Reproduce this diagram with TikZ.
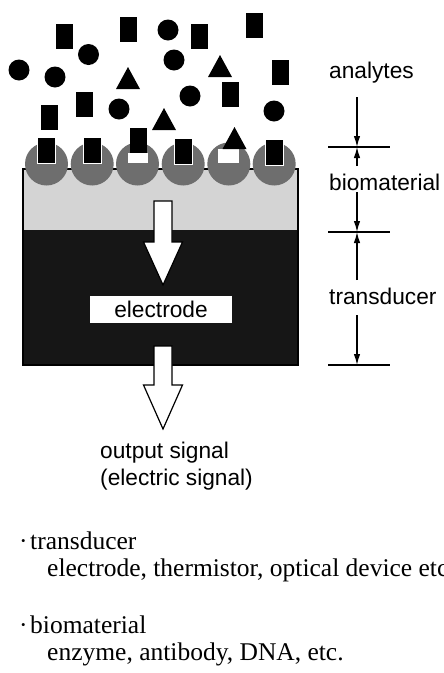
\documentclass[tikz,border=0pt]{standalone}
\usepackage{fontspec}
\setmainfont{Liberation Serif}
\setsansfont{Liberation Sans}
\usetikzlibrary{arrows.meta}
\definecolor{bead}{RGB}{110,110,110}
\definecolor{layer}{RGB}{212,212,212}
\definecolor{trans}{RGB}{22,22,22}
\begin{document}
\begin{tikzpicture}[x=1pt,y=-1pt,
  lbl/.style={font=\sffamily\fontsize{22.7}{27}\selectfont, inner sep=0pt, anchor=base west},
  note/.style={font=\rmfamily\fontsize{25.5}{30}\selectfont, inner sep=0pt, anchor=base west},
  dim/.style={line width=1.2pt, -{Latex[length=11pt,width=6.5pt]}},
  tick/.style={line width=1.4pt},
  bound/.style={fill=black, draw=white, line width=1pt},
  bigarrow/.style={fill=white, draw=black, line width=1.2pt, line join=miter}
]
\useasboundingbox (0,0) rectangle (444,673);
\fill[white] (0,0) rectangle (444,673);

% sensor body
\fill[layer] (23,169) rectangle (298,230);
\fill[trans] (23,230) rectangle (298,365);
\draw[line width=1.2pt, black] (23,169) rectangle (298,365);

% receptor beads
\foreach \cx in {46.5,92.2,137.5,183.2,228.8,274.2}
  \fill[bead] (\cx,164) circle (21.5pt);

% empty sites
\fill[white] (128,153) rectangle (148,163);
\fill[white] (218,149) rectangle (239,163);

% bound analytes
\foreach \cx/\cy in {46/150,92/150,183/151,274.5/152}
  \filldraw[bound] (\cx-9,\cy-13) rectangle (\cx+9,\cy+13);

% free analytes: rectangles
\foreach \cx/\cy in {64.5/36,128.5/29,199.5/36,254.5/25.5,280/72.5,230.5/94.5,84/104.5,49.5/117.5,138/140}
  \fill[black] (\cx-8.5,\cy-12.5) rectangle (\cx+8.5,\cy+12.5);

% free analytes: circles
\foreach \cx/\cy in {19/70,55/77,88.5/54.5,168/30,174/60,190/96,119/109,274/111}
  \fill[black] (\cx,\cy) circle (10.5pt);

% free analytes: triangles
\foreach \cx/\cy in {128/67,220/55,164/108,234.5/127}
  \fill[black] (\cx-12,\cy+22) -- (\cx,\cy) -- (\cx+12,\cy+22) -- cycle;

% big arrows
\filldraw[bigarrow] (154,201) -- (172,201) -- (172,242) -- (182.5,242) -- (163,285) -- (143.5,242) -- (154,242) -- cycle;
\filldraw[bigarrow] (154,346) -- (172,346) -- (172,385) -- (182.5,385) -- (163,429) -- (143.5,385) -- (154,385) -- cycle;

% electrode
\node[fill=white, minimum width=142pt, minimum height=27pt, inner sep=0pt,
      font=\sffamily\fontsize{22.7}{27}\selectfont] (electrode) at (161,309.5) {electrode};

% output text
\node[lbl] (out1) at (100,458) {output signal};
\node[lbl] (out2) at (100,485) {(electric signal)};

% dimension scale
\coordinate (t1a) at (328,147); \coordinate (t1b) at (390,147);
\coordinate (t2a) at (328,232); \coordinate (t2b) at (390,232);
\coordinate (t3a) at (328,365); \coordinate (t3b) at (390,365);
\draw[tick] (t1a) -- (t1b);
\draw[tick] (t2a) -- (t2b);
\draw[tick] (t3a) -- (t3b);
\coordinate (m1) at (357,147);
\coordinate (m2) at (357,232);
\coordinate (m3) at (357,365);
\coordinate (s1) at (357,97);
\coordinate (s2) at (357,166);
\coordinate (s3) at (357,192);
\coordinate (s4) at (357,280);
\coordinate (s5) at (357,315);
\draw[dim] (s1) -- (m1);
\draw[dim] (s2) -- (m1);
\draw[dim] (s3) -- (m2);
\draw[dim] (s4) -- (m2);
\draw[dim] (s5) -- (m3);

\node[lbl] (analytes) at (329,78) {analytes};
\node[lbl] (biomaterial) at (329,190) {biomaterial};
\node[lbl] (transducer) at (329,304) {transducer};

% notes
\node[note] (n1) at (19,549) {·\kern2.5pt transducer};
\node[note] (n2) at (47,576) {electrode, thermistor, optical device etc.};
\node[note] (n3) at (19,633) {·\kern2.5pt biomaterial};
\node[note] (n4) at (47,660) {enzyme, antibody, DNA, etc.};
\end{tikzpicture}
\end{document}
